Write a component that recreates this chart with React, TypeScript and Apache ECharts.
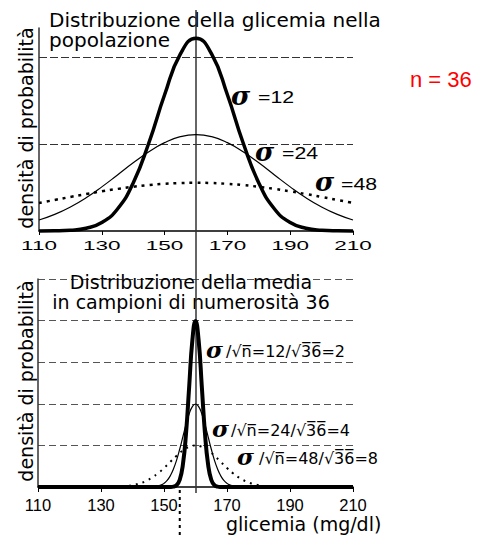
import React, { useEffect, useRef } from 'react';
import * as echarts from 'echarts';

// Top panel: population distributions (mean 160)
const xTop = [110, 115, 120, 125, 130, 135, 140, 145, 150, 155, 160, 165, 170, 175, 180, 185, 190, 195, 200, 205, 210];
const popSigma12 = [0.0000057, 0.0000294, 0.0001285, 0.000473, 0.001461, 0.003797, 0.00829, 0.01522, 0.02349, 0.03048, 0.03325, 0.03048, 0.02349, 0.01522, 0.00829, 0.003797, 0.001461, 0.000473, 0.0001285, 0.0000294, 0.0000057];
const popSigma24 = [0.0019, 0.00287, 0.00415, 0.00574, 0.00761, 0.00966, 0.01175, 0.01367, 0.01524, 0.01627, 0.01662, 0.01627, 0.01524, 0.01367, 0.01175, 0.00966, 0.00761, 0.00574, 0.00415, 0.00287, 0.0019];
const popSigma48 = [0.004831, 0.005356, 0.005873, 0.00637, 0.006837, 0.007257, 0.007621, 0.007915, 0.008132, 0.008266, 0.008311, 0.008266, 0.008132, 0.007915, 0.007621, 0.007257, 0.006837, 0.00637, 0.005873, 0.005356, 0.004831];

// Bottom panel: distribution of the sample mean (n = 36)
const xMean2 = [110, 150, 151, 152, 153, 154, 155, 156, 157, 158, 159, 160, 161, 162, 163, 164, 165, 166, 167, 168, 169, 170, 210];
const meanSe2 = [0, 0, 0.000008, 0.0000669, 0.000436, 0.002216, 0.00876, 0.027, 0.06476, 0.12099, 0.17603, 0.19947, 0.17603, 0.12099, 0.06476, 0.027, 0.00876, 0.002216, 0.000436, 0.0000669, 0.000008, 0, 0];
const xMean4 = [110, 140, 144, 146, 148, 149, 150, 151, 152, 153, 154, 155, 156, 157, 158, 159, 160, 161, 162, 163, 164, 165, 166, 167, 168, 169, 170, 171, 172, 174, 176, 180, 210];
const meanSe4 = [0, 0, 0.0000334, 0.000218, 0.00111, 0.00227, 0.00438, 0.00794, 0.0135, 0.02157, 0.03238, 0.04566, 0.06049, 0.07529, 0.08802, 0.09667, 0.09974, 0.09667, 0.08802, 0.07529, 0.06049, 0.04566, 0.03238, 0.02157, 0.0135, 0.00794, 0.00438, 0.00227, 0.00111, 0.000218, 0.0000334, 0, 0];
const xMean8 = [110, 120, 128, 130, 132, 134, 136, 138, 140, 142, 144, 146, 148, 150, 152, 154, 156, 158, 160, 162, 164, 166, 168, 170, 172, 174, 176, 178, 180, 182, 184, 186, 188, 190, 192, 200, 210];
const meanSe8 = [0, 0, 0.0000167, 0.0000441, 0.000109, 0.000254, 0.000554, 0.00114, 0.00219, 0.00397, 0.00675, 0.01078, 0.01619, 0.02283, 0.03025, 0.03764, 0.04401, 0.04833, 0.04987, 0.04833, 0.04401, 0.03764, 0.03025, 0.02283, 0.01619, 0.01078, 0.00675, 0.00397, 0.00219, 0.00114, 0.000554, 0.000254, 0.000109, 0.0000441, 0.0000167, 0, 0];

const xTicks = [110, 130, 150, 170, 190, 210];
const meanValue = 160;
const markerValue = 155;

const topTitle = 'Distribuzione della glicemia nella\npopolazione';
const bottomTitle = 'Distribuzione della media\nin campioni di numerosità 36';
const yName = 'densità di probabilità';
const xName = 'glicemia (mg/dl)';
const nLabel = 'n = 36';
const topSigmaLabels = ['=12', '=24', '=48'];
const bottomSigmaLabels = ['/\u221An\u0305=12/\u221A3\u03056\u0305=2', '/\u221An\u0305=24/\u221A3\u03056\u0305=4', '/\u221An\u0305=48/\u221A3\u03056\u0305=8'];

const pairs = (xs: number[], ys: number[]) => xs.map((x, i) => [x, ys[i]]);

export default function App() {
  const ref = useRef<HTMLDivElement>(null);
  useEffect(() => {
    document.body.style.margin = '0';
    const chart = echarts.init(ref.current!, null, { renderer: 'svg' });
    const axisLineY = { show: true, lineStyle: { color: '#333', width: 1.5 } };
    chart.setOption({
      animation: false,
      grid: [
        { left: 39, top: 28, width: 314, height: 203 },
        { left: 38, top: 279, width: 315, height: 208 },
      ],
      xAxis: [
        {
          gridIndex: 0, type: 'value', min: 110, max: 210, interval: 20,
          axisLine: { show: true, onZero: false, lineStyle: { color: '#000', width: 1.5 } },
          axisTick: { show: true, length: 4, lineStyle: { color: '#000', width: 1 } },
          axisLabel: { show: false },
          splitLine: { show: false },
        },
        {
          gridIndex: 1, type: 'value', min: 110, max: 210, interval: 20,
          axisLine: { show: true, onZero: false, lineStyle: { color: '#000', width: 1.5 } },
          axisTick: { show: true, length: 5, lineStyle: { color: '#000', width: 1 } },
          axisLabel: { show: true, fontSize: 16.5, lineHeight: 14, fontFamily: 'Liberation Sans', color: '#000', margin: 11 },
          splitLine: { show: false },
        },
      ],
      yAxis: [
        {
          gridIndex: 0, type: 'value', min: 0, max: 0.035, interval: 0.015,
          axisLine: axisLineY, axisTick: { show: false }, axisLabel: { show: false },
          splitLine: { show: true, showMinLine: false, showMaxLine: false, lineStyle: { color: '#333', width: 1, type: [8, 3] } },
        },
        {
          gridIndex: 1, type: 'value', min: 0, max: 0.25, interval: 0.05,
          axisLine: axisLineY, axisTick: { show: false }, axisLabel: { show: false },
          splitLine: { show: true, showMinLine: false, showMaxLine: true, lineStyle: { color: '#555', width: 1, type: [7, 4] } },
        },
      ],
      series: [
        { type: 'line', xAxisIndex: 0, yAxisIndex: 0, data: pairs(xTop, popSigma48), smooth: true, showSymbol: false, clip: false, lineStyle: { color: '#000', width: 2.5, type: [3, 5] } },
        { type: 'line', xAxisIndex: 0, yAxisIndex: 0, data: pairs(xTop, popSigma24), smooth: true, showSymbol: false, clip: false, lineStyle: { color: '#000', width: 1.2 } },
        { type: 'line', xAxisIndex: 0, yAxisIndex: 0, data: pairs(xTop, popSigma12), smooth: true, showSymbol: false, clip: false, lineStyle: { color: '#000', width: 3.5 } },
        { type: 'line', xAxisIndex: 1, yAxisIndex: 1, data: pairs(xMean8, meanSe8), smooth: true, showSymbol: false, clip: false, lineStyle: { color: '#000', width: 2, type: [2, 5] } },
        { type: 'line', xAxisIndex: 1, yAxisIndex: 1, data: pairs(xMean4, meanSe4), smooth: true, showSymbol: false, clip: false, lineStyle: { color: '#000', width: 1.2 } },
        { type: 'line', xAxisIndex: 1, yAxisIndex: 1, data: pairs(xMean2, meanSe2), smooth: true, showSymbol: false, clip: false, lineStyle: { color: '#000', width: 4 } },
      ],
    });

    const px = (axis: number, v: number) => chart.convertToPixel({ xAxisIndex: axis } as any, v) as number;
    const cx = px(0, meanValue);
    const mx = px(1, markerValue);
    const sans = 'DejaVu Sans';
    const sigmaStyle = (size: number) => ({ text: 'σ', fontSize: size, fontFamily: 'DejaVu Serif', fontWeight: 'bold', fontStyle: 'italic', fill: '#000', align: 'left', verticalAlign: 'middle' });

    const topSigmaPos = [
      { sx: 231, rx: 258, y: 97.5 },
      { sx: 255, rx: 282, y: 153.5 },
      { sx: 315, rx: 341, y: 184 },
    ];
    const bottomSigmaPos = [
      { sx: 206, rx: 226, y: 351 },
      { sx: 212, rx: 231, y: 430 },
      { sx: 237, rx: 259, y: 458 },
    ];

    const graphic: any[] = [
      { type: 'line', z: 1, shape: { x1: cx, y1: 10, x2: cx, y2: 493 }, style: { stroke: '#333', lineWidth: 1.5 } },
      { type: 'line', z: 1, shape: { x1: mx, y1: 490, x2: mx, y2: 538 }, style: { stroke: '#000', lineWidth: 2, lineDash: [3, 4] } },
      { type: 'text', x: 49, y: 10, style: { text: topTitle, fontSize: 20, fontFamily: sans, fill: '#000', align: 'left', verticalAlign: 'top', lineHeight: 20 } },
      { type: 'text', x: 191, y: 292, style: { text: bottomTitle, fontSize: 19, fontFamily: sans, fill: '#000', align: 'center', verticalAlign: 'middle', lineHeight: 20 } },
      { type: 'text', x: 26, y: 128, rotation: Math.PI / 2, style: { text: yName, fontSize: 19, fontFamily: sans, fill: '#000', align: 'center', verticalAlign: 'middle' } },
      { type: 'text', x: 26, y: 381, rotation: Math.PI / 2, style: { text: yName, fontSize: 19, fontFamily: sans, fill: '#000', align: 'center', verticalAlign: 'middle' } },
      { type: 'text', x: 226, y: 523.5, style: { text: xName, fontSize: 19, lineHeight: 18, fontFamily: sans, fill: '#000', align: 'left', verticalAlign: 'middle' } },
      { type: 'text', x: 410, y: 79.5, style: { text: nLabel, fontSize: 22, fontFamily: 'Liberation Sans', fill: '#ff0000', align: 'left', verticalAlign: 'middle' } },
    ];
    xTicks.forEach((t) => {
      graphic.push({ type: 'text', x: px(0, t), y: 246, scaleX: 1.8, style: { text: String(t), fontSize: 12.5, fontFamily: 'Liberation Sans', fill: '#000', align: 'center', verticalAlign: 'middle' } });
    });
    topSigmaLabels.forEach((lab, i) => {
      const p = topSigmaPos[i];
      graphic.push({ type: 'text', x: p.sx, y: p.y - 2, style: sigmaStyle(26) });
      graphic.push({ type: 'text', x: p.rx, y: p.y, scaleX: 1.33, style: { text: lab, fontSize: 16, fontFamily: 'Liberation Sans', fill: '#000', align: 'left', verticalAlign: 'middle' } });
    });
    bottomSigmaLabels.forEach((lab, i) => {
      const p = bottomSigmaPos[i];
      graphic.push({ type: 'text', x: p.sx, y: p.y - 2, style: sigmaStyle(23) });
      graphic.push({ type: 'text', x: p.rx, y: p.y, style: { text: lab, fontSize: 16, fontFamily: sans, fill: '#000', align: 'left', verticalAlign: 'middle' } });
    });
    chart.setOption({ graphic });

    return () => chart.dispose();
  }, []);
  return <div ref={ref} style={{ width: 481, height: 538 }} />;
}
